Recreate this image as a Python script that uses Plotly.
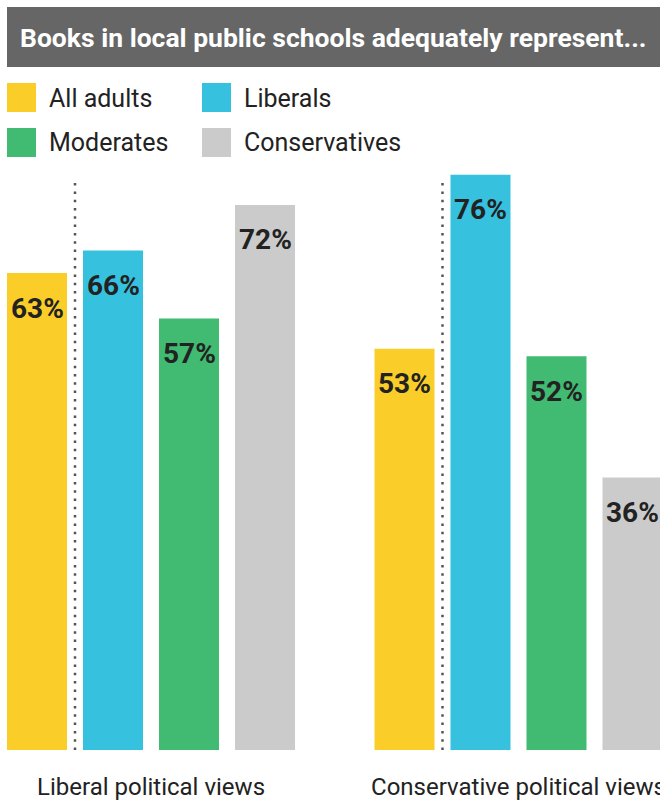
import plotly.graph_objects as go

title_text = "Books in local public schools adequately represent..."
categories = ["Liberal political views", "Conservative political views"]
series_names = ["All adults", "Liberals", "Moderates", "Conservatives"]
series_values = [
    [63, 53],  # All adults
    [66, 76],  # Liberals
    [57, 52],  # Moderates
    [72, 36],  # Conservatives
]
colors = ["#FBCD29", "#36C1DF", "#41BA72", "#CBCBCB"]

W, H = 660, 800
BARGAP = 0.1728
GROUPGAP = 0.2105
slot = (1 - BARGAP) / len(series_names)

fig = go.Figure()
xs = list(range(len(categories)))
for name, vals, col in zip(series_names, series_values, colors):
    fig.add_trace(go.Bar(x=xs, y=vals, name=name, marker=dict(color=col, line=dict(width=0)),
                         showlegend=False, hoverinfo="skip"))

# value labels inside the bars, near the top
annotations = []
for i, vals in enumerate(series_values):
    for c, v in enumerate(vals):
        annotations.append(dict(
            x=c + (i - 1.5) * slot, y=v, xref="x", yref="y",
            text=f"{v}%", showarrow=False, yanchor="middle", yshift=-35,
            font=dict(family="Roboto", size=28, color="#222222", weight="bold")))

def py(px):  # paper y from pixel y (plot top at 150, bottom at 750)
    return (750 - px) / 600.0

def pxx(px):
    return px / W

shapes = []
# title bar
shapes.append(dict(type="rect", xref="paper", yref="paper", x0=pxx(7), x1=pxx(670),
                   y0=py(67), y1=py(7), fillcolor="#666666", line=dict(width=0), layer="above"))
annotations.append(dict(x=pxx(18), y=py(37), xref="paper", yref="paper", xanchor="left",
                        yanchor="middle", showarrow=False, text=title_text,
                        font=dict(family="Roboto", size=26.5, color="white", weight="bold")))

# legend
leg_pos = [(7, 83), (202, 83), (7, 128), (202, 128)]
for name, col, (lx, ly) in zip(series_names, colors, leg_pos):
    shapes.append(dict(type="rect", xref="paper", yref="paper", x0=pxx(lx), x1=pxx(lx + 29),
                       y0=py(ly + 29), y1=py(ly), fillcolor=col, line=dict(width=0)))
    annotations.append(dict(x=pxx(lx + 40), y=py(ly + 15), xref="paper", yref="paper",
                            xanchor="left", yanchor="middle", showarrow=False, text=name,
                            font=dict(family="Roboto", size=25, color="#222222")))

# dotted separators between "All adults" and the rest
for c in xs:
    shapes.append(dict(type="line", xref="x", yref="y", x0=c - slot, x1=c - slot,
                       y0=0, y1=75.6, line=dict(color="#555555", width=2.5, dash="2.5px,5.8px")))

cat_spacing = 367.5
x_left = -151 / cat_spacing
x_right = (W - 151) / cat_spacing

fig.update_layout(
    width=W, height=H,
    margin=dict(l=0, r=0, t=150, b=50),
    paper_bgcolor="white", plot_bgcolor="white",
    barmode="group", bargap=BARGAP, bargroupgap=GROUPGAP,
    xaxis=dict(range=[x_left, x_right], tickvals=xs, ticktext=categories,
               showgrid=False, zeroline=False, showline=False, ticks="",
               tickfont=dict(family="Roboto", size=24, color="#222222"),
               ticklabelstandoff=20, ticklabeloverflow="allow",
               automargin=False, fixedrange=True),
    yaxis=dict(range=[0, 600 / 7.57], visible=False, fixedrange=True),
    shapes=shapes, annotations=annotations,
    font=dict(family="Roboto"),
)

fig.write_html("out.html", config={"displayModeBar": False})
